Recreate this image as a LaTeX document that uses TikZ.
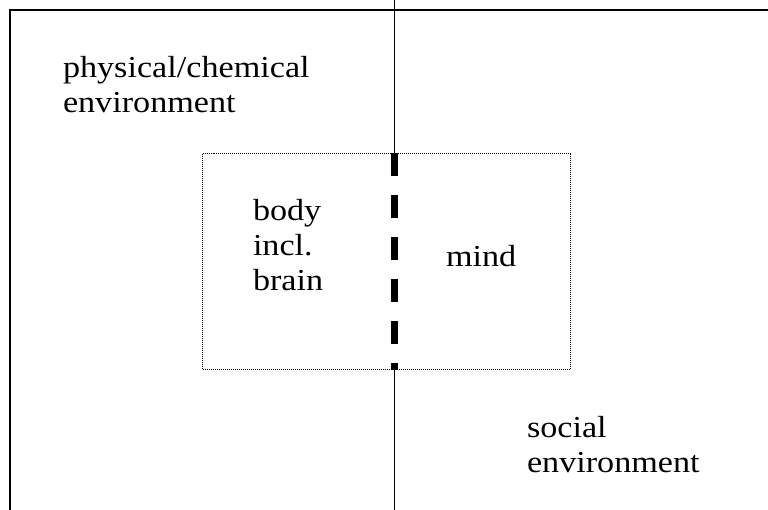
\documentclass[tikz,border=0pt]{standalone}
\usepackage{fontspec}
\setmainfont{Liberation Serif}[FakeStretch=1.12]
\begin{document}
\begin{tikzpicture}[x=1pt,y=-1pt,
  lbl/.style={inner sep=0pt,outer sep=0pt,align=left,anchor=base west,
    font=\fontsize{30.5}{35}\selectfont},
  frameline/.style={line width=1.8pt},
  divider/.style={line width=1.4pt},
  thickdash/.style={line width=6.5pt,dash pattern=on 23.5pt off 18.5pt},
  dotbox/.style={line width=1pt,dash pattern=on 1pt off 1pt}]
\useasboundingbox (0,0) rectangle (768,510);
% frame
\coordinate (tl) at (10,10);
\coordinate (tr) at (768,10);
\coordinate (bl) at (10,510);
\draw[frameline] (bl) -- (tl) -- (tr);
% dotted box
\node[draw,dotbox,minimum width=368pt,minimum height=216pt,inner sep=0pt,anchor=north west] (box) at (202,153) {};
% divider
\coordinate (vtop) at (394.5,0);
\coordinate (vbot) at (394.5,510);
\coordinate (dtop) at (box.north -| vtop);
\coordinate (dbot) at (box.south -| vtop);
\draw[divider] (vtop) -- (dtop);
\draw[divider] (dbot) -- (vbot);
\draw[thickdash] (dtop) -- (dbot);
% labels (base anchor = baseline of last line)
\node[lbl] (phys) at (63,113) {physical/chemical\\environment};
\node[lbl] (body) at (253,291) {body\\incl.\\brain};
\node[lbl] (mind) at (446,267) {mind};
\node[lbl] (soc) at (527,472) {social\\environment};
\end{tikzpicture}
\end{document}
